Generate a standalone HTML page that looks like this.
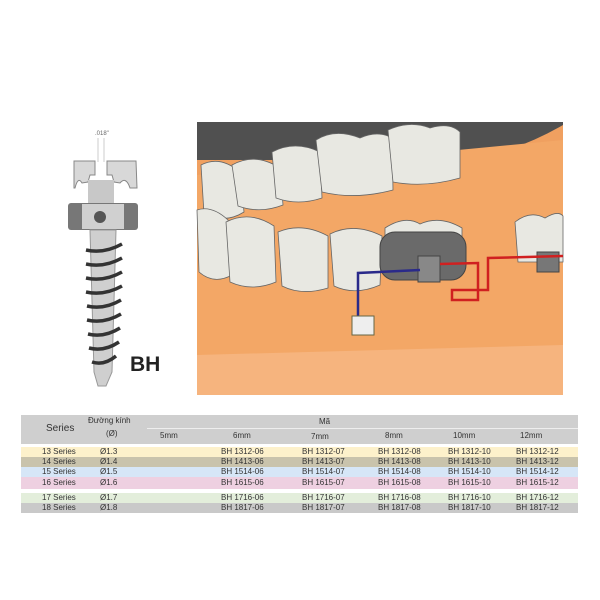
<!DOCTYPE html>
<html><head><meta charset="utf-8"><style>
body{margin:0;width:600px;height:600px;background:#fff;position:relative;overflow:hidden;font-family:"Liberation Sans",sans-serif}
.t{position:absolute;font-size:8px;color:#333;white-space:nowrap}
.r{position:absolute;left:21px;width:557px}
</style></head><body>
<svg style="position:absolute;left:0;top:0" width="600" height="600">
<!-- screw -->
<text x="95" y="135" font-size="6" fill="#666" font-family="Liberation Sans">.018"</text>
<line x1="98" y1="138" x2="98" y2="162" stroke="#aaa" stroke-width="0.6"/>
<line x1="104" y1="138" x2="104" y2="162" stroke="#aaa" stroke-width="0.6"/>
<path d="M74 161 L95 161 L95 175 L90 175 L88 182 L82 183 Q78 176 75 188 L74 188Z" fill="#d8d8d8" stroke="#888"/>
<path d="M107 161 L136 161 L137 188 L130 188 Q126 176 120 183 L114 182 L112 175 L107 175Z" fill="#d8d8d8" stroke="#888"/>
<rect x="88" y="180" width="26" height="32" fill="#c8c8c8"/>
<rect x="68" y="203" width="70" height="27" rx="3" fill="#777"/>
<rect x="82" y="204" width="42" height="25" fill="#d0d0d0"/>
<circle cx="100" cy="217" r="6" fill="#555"/>
<path d="M90 230 L116 230 L112 372 L106 386 L98 386 L94 372Z" fill="#cfcfcf" stroke="#999"/>
<g stroke="#333" stroke-width="3.5" fill="none">
<path d="M86 250 Q104 254 122 244"/><path d="M86 264 Q104 268 122 258"/><path d="M86 278 Q104 282 122 272"/>
<path d="M86 292 Q104 296 122 286"/><path d="M87 306 Q104 310 121 300"/><path d="M87 320 Q104 324 121 314"/>
<path d="M88 334 Q104 338 120 328"/><path d="M89 348 Q104 352 119 342"/><path d="M92 362 Q104 366 116 356"/>
</g>
<text x="130" y="371" font-size="21" font-weight="bold" fill="#222" font-family="Liberation Sans">BH</text>
<!-- dental image -->
<rect x="197" y="122" width="366" height="273" fill="#f0a060"/>
<path d="M197 122 L563 122 L563 125 Q520 150 470 160 L197 160Z" fill="#505050"/>
<path d="M197 175 L563 140 L563 395 L197 395Z" fill="#f3a766"/>
<path d="M197 355 L563 345 L563 395 L197 395Z" fill="#f6b47e"/>
<g fill="#e8e8e2" stroke="#666" stroke-width="0.8">
<path d="M201 165 Q220 155 240 172 L244 212 Q225 224 204 214Z"/>
<path d="M232 165 Q255 152 280 168 L283 205 Q260 214 238 206Z"/>
<path d="M272 152 Q295 140 320 152 L322 198 Q298 206 276 198Z"/>
<path d="M316 140 Q335 128 360 138 Q378 130 392 138 L393 190 Q355 200 322 192Z"/>
<path d="M388 130 Q410 120 430 128 Q450 122 460 132 L460 178 Q425 188 393 182Z"/>
<path d="M197 210 Q212 205 228 220 L232 275 Q214 285 199 272Z"/>
<path d="M226 222 Q250 210 274 226 L276 282 Q252 292 230 282Z"/>
<path d="M278 232 Q302 222 328 236 L328 288 Q302 296 282 286Z"/>
<path d="M330 234 Q354 222 382 236 L380 285 Q355 296 334 286Z"/>
<path d="M385 228 Q405 215 420 224 Q440 215 462 228 L462 248 L385 248Z"/>
<path d="M515 222 Q530 210 545 218 Q558 210 563 216 L563 262 L518 262Z"/>
</g>
<rect x="380" y="232" width="86" height="48" rx="15" fill="#6a6a6a" stroke="#444"/>
<rect x="418" y="256" width="22" height="26" fill="#888" stroke="#444"/>
<rect x="537" y="252" width="22" height="20" fill="#777" stroke="#444"/>
<g fill="none" stroke-width="2.5">
<path d="M358 320 L358 273 L420 270" stroke="#2a2a8a"/>
<path d="M440 264 L478 263 L478 300 L452 300 L452 290 L488 290 L488 258 L563 256" stroke="#d02020"/>
</g>
<rect x="352" y="316" width="22" height="19" fill="#eee" stroke="#664"/>
</svg>
<!-- table -->
<div class="r" style="top:415px;height:29px;background:#cfcfcf"></div>
<div style="position:absolute;left:147px;top:428px;width:431px;height:1px;background:#eee"></div>
<div class="r" style="top:447px;height:10px;background:#fdf1cb"></div>
<div class="r" style="top:457px;height:10px;background:#c9c3ac"></div>
<div class="r" style="top:467px;height:10px;background:#d6e6f7"></div>
<div class="r" style="top:477px;height:12px;background:#eed0e1"></div>
<div class="r" style="top:493px;height:10px;background:#e3eedb"></div>
<div class="r" style="top:503px;height:10px;background:#c9c9c9"></div>
<div class="t" style="left:46px;top:423px;font-size:10px">Series</div>
<div class="t" style="left:88px;top:416px">Đường kính</div>
<div class="t" style="left:106px;top:429px">(Ø)</div>
<div class="t" style="left:319px;top:417px">Mã</div>
<div class="t" style="left:160px;top:431px">5mm</div>
<div class="t" style="left:233px;top:431px">6mm</div>
<div class="t" style="left:311px;top:432px">7mm</div>
<div class="t" style="left:385px;top:431px">8mm</div>
<div class="t" style="left:453px;top:431px">10mm</div>
<div class="t" style="left:520px;top:431px">12mm</div>
<div style="position:absolute;left:0;top:447px;width:600px;font-size:8px;color:#333">
<div style="position:absolute;top:0;left:0"><span class="t" style="left:42px;top:0">13 Series</span><span class="t" style="left:100px;top:0">Ø1.3</span><span class="t" style="left:221px">BH 1312-06</span><span class="t" style="left:302px">BH 1312-07</span><span class="t" style="left:378px">BH 1312-08</span><span class="t" style="left:448px">BH 1312-10</span><span class="t" style="left:516px">BH 1312-12</span></div>
<div style="position:absolute;top:10px;left:0"><span class="t" style="left:42px">14 Series</span><span class="t" style="left:100px">Ø1.4</span><span class="t" style="left:221px">BH 1413-06</span><span class="t" style="left:302px">BH 1413-07</span><span class="t" style="left:378px">BH 1413-08</span><span class="t" style="left:448px">BH 1413-10</span><span class="t" style="left:516px">BH 1413-12</span></div>
<div style="position:absolute;top:20px;left:0"><span class="t" style="left:42px">15 Series</span><span class="t" style="left:100px">Ø1.5</span><span class="t" style="left:221px">BH 1514-06</span><span class="t" style="left:302px">BH 1514-07</span><span class="t" style="left:378px">BH 1514-08</span><span class="t" style="left:448px">BH 1514-10</span><span class="t" style="left:516px">BH 1514-12</span></div>
<div style="position:absolute;top:31px;left:0"><span class="t" style="left:42px">16 Series</span><span class="t" style="left:100px">Ø1.6</span><span class="t" style="left:221px">BH 1615-06</span><span class="t" style="left:302px">BH 1615-07</span><span class="t" style="left:378px">BH 1615-08</span><span class="t" style="left:448px">BH 1615-10</span><span class="t" style="left:516px">BH 1615-12</span></div>
<div style="position:absolute;top:46px;left:0"><span class="t" style="left:42px">17 Series</span><span class="t" style="left:100px">Ø1.7</span><span class="t" style="left:221px">BH 1716-06</span><span class="t" style="left:302px">BH 1716-07</span><span class="t" style="left:378px">BH 1716-08</span><span class="t" style="left:448px">BH 1716-10</span><span class="t" style="left:516px">BH 1716-12</span></div>
<div style="position:absolute;top:56px;left:0"><span class="t" style="left:42px">18 Series</span><span class="t" style="left:100px">Ø1.8</span><span class="t" style="left:221px">BH 1817-06</span><span class="t" style="left:302px">BH 1817-07</span><span class="t" style="left:378px">BH 1817-08</span><span class="t" style="left:448px">BH 1817-10</span><span class="t" style="left:516px">BH 1817-12</span></div>
</div>
</body></html>
